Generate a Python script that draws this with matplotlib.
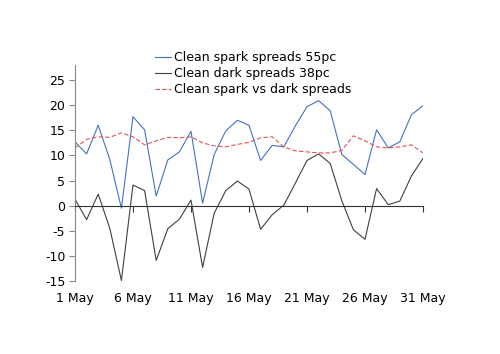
import matplotlib
matplotlib.use("Agg")
import matplotlib.pyplot as plt
import numpy as np

plt.rcParams['font.family'] = ['DejaVu Sans']

days = list(range(1, 32))
tick_days = [1, 6, 11, 16, 21, 26, 31]
tick_labels = [f"{d} May" for d in tick_days]

spark = [12.7, 10.3, 16.0, 9.2, -0.5, 17.7, 15.1, 1.9, 9.1, 10.7, 14.8, 0.5, 10.2, 14.9, 17.0,
         16.0, 9.0, 12.0, 11.7, 15.9, 19.7, 20.9, 18.9, 10.2, 8.2, 6.2, 15.1, 11.5, 12.7, 18.1, 19.9]
dark = [1.3, -2.8, 2.3, -4.5, -14.9, 4.1, 3.0, -10.9, -4.6, -2.7, 1.1, -12.3, -1.5, 3.0, 4.9,
        3.3, -4.7, -1.8, 0.1, 4.5, 9.0, 10.3, 8.4, 1.0, -4.8, -6.7, 3.4, 0.2, 0.9, 5.9, 9.4]
spread = [11.5, 13.2, 13.7, 13.6, 14.5, 13.7, 12.1, 12.9, 13.6, 13.5, 13.7, 12.5, 11.9, 11.7, 12.2,
          12.6, 13.5, 13.7, 11.7, 10.9, 10.7, 10.5, 10.5, 11.0, 13.9, 12.9, 11.7, 11.5, 11.7, 12.1, 10.5]

fig = plt.figure(figsize=(5.0, 3.54), dpi=100)
ax = fig.add_axes([75/500, 1-281/354, (423-75)/500, (281-65)/354])

l1, = ax.plot(days, spark, color='#4472C4', lw=0.8, label='Clean spark spreads 55pc')
l2, = ax.plot(days, dark, color='#404040', lw=0.8, label='Clean dark spreads 38pc')
l3, = ax.plot(days, spread, color='#E05555', lw=0.8, ls=(0, (4, 2)), label='Clean spark vs dark spreads')

ax.set_xlim(1, 31)
ax.set_ylim(-15, 28)
ax.set_yticks([-15, -10, -5, 0, 5, 10, 15, 20, 25])
ax.set_yticklabels(['-15', '-10', '-5', '0', '5', '10', '15', '20', '25'])

for s in ['top', 'right']:
    ax.spines[s].set_visible(False)
ax.spines['left'].set_color('#888888')
ax.spines['left'].set_linewidth(0.8)
ax.spines['bottom'].set_position(('data', 0))
ax.spines['bottom'].set_color('#333333')
ax.spines['bottom'].set_linewidth(0.8)
ax.tick_params(axis='y', direction='out', length=4, width=0.8, color='#888888', labelsize=9, pad=3)
ax.set_xticks(tick_days)
ax.tick_params(axis='x', direction='out', length=4, width=0.8, color='#333333', labelbottom=False)

sec = ax.secondary_xaxis('bottom')
sec.set_xticks(tick_days)
sec.set_xticklabels(tick_labels)
sec.spines['bottom'].set_visible(False)
sec.tick_params(axis='x', length=0, labelsize=9, pad=8)

fig.legend(handles=[l1, l2, l3], loc='upper left', bbox_to_anchor=(155/500, 1-51/354),
           frameon=False, fontsize=9, handlelength=1.3, handletextpad=0.2,
           labelspacing=0.25, borderaxespad=0, borderpad=0)

fig.savefig('out.png', dpi=100)
